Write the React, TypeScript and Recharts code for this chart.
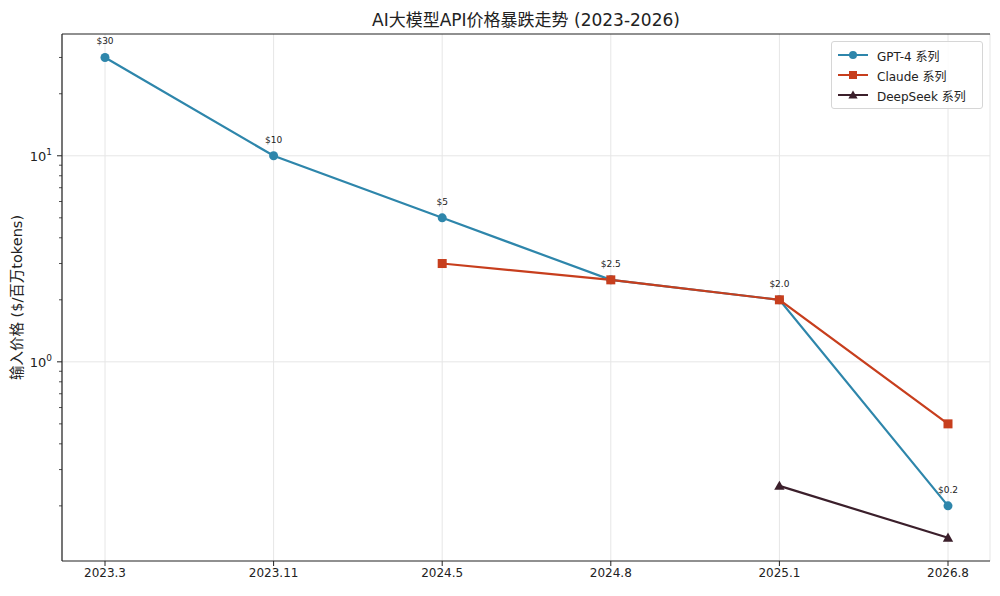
import React from "react";
import {
    LineChart,
    Line,
    XAxis,
    YAxis,
    CartesianGrid,
    ReferenceLine,
    LabelList,
} from "recharts";

const FONT = "'DejaVu Sans', 'Noto Sans CJK SC', sans-serif";

const periods = ["2023.3", "2023.11", "2024.5", "2024.8", "2025.1", "2026.8"];
const gpt4 = [30, 10, 5, 2.5, 2.0, 0.2];
const claude = [null, null, 3, 2.5, 2.0, 0.5];
const deepseek = [null, null, null, null, 0.25, 0.14];
const gptLabels = ["$30", "$10", "$5", "$2.5", "$2.0", "$0.2"];
const majorTicks = [1, 10];
const minorTicks = [0.2, 0.3, 0.4, 0.5, 0.6, 0.7, 0.8, 0.9, 2, 3, 4, 5, 6, 7, 8, 9, 20, 30];
const Y_MIN = 0.108;
const Y_MAX = 39;

const seriesInfo = [
    { key: "gpt4", name: "GPT-4 系列", color: "#2E86AB", shape: "circle" },
    { key: "claude", name: "Claude 系列", color: "#C73E1D", shape: "square" },
    { key: "deepseek", name: "DeepSeek 系列", color: "#3B1F2B", shape: "triangle" },
];

const data = periods.map((p, i) => ({
    period: p,
    gpt4: gpt4[i],
    claude: claude[i],
    deepseek: deepseek[i],
    gptLabel: gptLabels[i],
}));

const PLOT_LEFT = 62;
const AXIS_COLOR = "#222";

function Marker({ shape, color, cx, cy, size = 4.5 }: any) {
    if (cx == null || cy == null || isNaN(cx) || isNaN(cy)) return <g />;
    if (shape === "square") {
        return <rect x={cx - size} y={cy - size} width={size * 2} height={size * 2} fill={color} />;
    }
    if (shape === "triangle") {
        const s = size * 1.15;
        return (
            <polygon
                points={`${cx},${cy - s} ${cx - s},${cy + s * 0.75} ${cx + s},${cy + s * 0.75}`}
                fill={color}
            />
        );
    }
    return <circle cx={cx} cy={cy} r={size} fill={color} />;
}

function YTick({ y, payload }: any) {
    const v = payload.value;
    if (!majorTicks.includes(v)) {
        return <line x1={PLOT_LEFT - 3} x2={PLOT_LEFT} y1={y} y2={y} stroke={AXIS_COLOR} strokeWidth={0.8} />;
    }
    const exp = Math.round(Math.log10(v));
    return (
        <g>
            <line x1={PLOT_LEFT - 5} x2={PLOT_LEFT} y1={y} y2={y} stroke={AXIS_COLOR} strokeWidth={1} />
            <text x={PLOT_LEFT - 10} y={y + 5} textAnchor="end" fontSize={13} fill={AXIS_COLOR} fontFamily={FONT}>
                <tspan>10</tspan>
                <tspan dy={-6} fontSize={9}>{exp}</tspan>
            </text>
        </g>
    );
}

function LegendBox() {
    return (
        <div
            style={{
                position: "absolute",
                left: 831,
                top: 41,
                width: 152,
                boxSizing: "border-box",
                border: "1px solid #d6d6d6",
                borderRadius: 3,
                background: "rgba(255,255,255,0.85)",
                padding: "3px 4px",
                fontFamily: FONT,
                fontSize: 12,
                color: "#222",
            }}
        >
            {seriesInfo.map((s) => (
                <div key={s.key} style={{ display: "flex", alignItems: "center", height: 20 }}>
                    <svg width={34} height={14} style={{ marginRight: 7 }}>
                        <line x1={2} x2={32} y1={7} y2={7} stroke={s.color} strokeWidth={2} />
                        <Marker shape={s.shape} color={s.color} cx={17} cy={7} size={4} />
                    </svg>
                    <span>{s.name}</span>
                </div>
            ))}
        </div>
    );
}

export default function App() {
    return (
        <div style={{ position: "absolute", left: 0, top: 0, width: 1000, height: 596, background: "#fff" }}>
            <div
                style={{
                    position: "absolute",
                    left: PLOT_LEFT,
                    width: 928,
                    top: 6,
                    textAlign: "center",
                    fontFamily: FONT,
                    fontSize: 17,
                    color: "#222",
                }}
            >
                AI大模型API价格暴跌走势 (2023-2026)
            </div>
            <LineChart
                width={1000}
                height={596}
                data={data}
                margin={{ top: 34, right: 10, left: 0, bottom: 5 }}
                style={{ fontFamily: FONT }}
            >
                <CartesianGrid horizontal={false} stroke="#e6e6e6" />
                <ReferenceLine y={1} stroke="#e6e6e6" />
                <ReferenceLine y={10} stroke="#e6e6e6" />
                <ReferenceLine y={Y_MAX} stroke={AXIS_COLOR} strokeWidth={1.2} />
                <XAxis
                    dataKey="period"
                    padding={{ left: 43, right: 42 }}
                    height={30}
                    tickSize={5}
                    tick={{ fontSize: 12, fill: AXIS_COLOR }}
                    stroke={AXIS_COLOR}
                    axisLine={{ stroke: AXIS_COLOR, strokeWidth: 1.2 }}
                    tickLine={{ stroke: AXIS_COLOR }}
                />
                <YAxis
                    scale="log"
                    domain={[Y_MIN, Y_MAX]}
                    allowDataOverflow
                    ticks={[...minorTicks, ...majorTicks]}
                    interval={0}
                    width={62}
                    tick={<YTick />}
                    tickLine={false}
                    axisLine={{ stroke: AXIS_COLOR, strokeWidth: 1.2 }}
                    label={{
                        value: "输入价格 ($/百万tokens)",
                        angle: -90,
                        position: "insideLeft",
                        offset: 17,
                        style: { textAnchor: "middle", fontSize: 14.5, fill: AXIS_COLOR, fontFamily: FONT },
                    }}
                />
                <YAxis
                    yAxisId="right"
                    orientation="right"
                    width={0}
                    tick={false}
                    tickLine={false}
                    axisLine={{ stroke: AXIS_COLOR, strokeWidth: 1.2 }}
                />
                <Line
                    dataKey="gpt4"
                    name="GPT-4 系列"
                    stroke="#2E86AB"
                    strokeWidth={2.2}
                    isAnimationActive={false}
                    dot={(p: any) => <Marker key={p.index} shape="circle" color="#2E86AB" cx={p.cx} cy={p.cy} size={4.5} />}
                    activeDot={false}
                >
                    <LabelList dataKey="gptLabel" position="top" offset={13} fontSize={9} fill={AXIS_COLOR} />
                </Line>
                <Line
                    dataKey="claude"
                    name="Claude 系列"
                    stroke="#C73E1D"
                    strokeWidth={2.2}
                    isAnimationActive={false}
                    dot={(p: any) => <Marker key={p.index} shape="square" color="#C73E1D" cx={p.cx} cy={p.cy} size={4.5} />}
                    activeDot={false}
                />
                <Line
                    dataKey="deepseek"
                    name="DeepSeek 系列"
                    stroke="#3B1F2B"
                    strokeWidth={2.2}
                    isAnimationActive={false}
                    dot={(p: any) => <Marker key={p.index} shape="triangle" color="#3B1F2B" cx={p.cx} cy={p.cy} size={4.5} />}
                    activeDot={false}
                />
            </LineChart>
            <LegendBox />
        </div>
    );
}
